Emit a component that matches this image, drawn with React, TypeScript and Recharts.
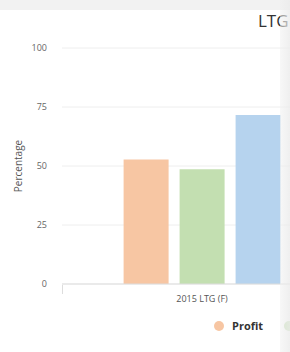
import { Bar, BarChart, CartesianGrid, Legend, XAxis, YAxis } from "recharts";

const categories = ["2015 LTG (F)"];
const seriesNames = ["Profit", "Revenue", "Margin"];
const seriesColors = ["#f7c6a3", "#c3dfb1", "#b6d3ee"];
const profit = [52.8];
const revenue = [48.6];
const margin = [71.6];
const yTicks = [0, 25, 50, 75, 100];

const data = categories.map((c, i) => ({
  name: c,
  Profit: profit[i],
  Revenue: revenue[i],
  Margin: margin[i],
}));

const font = "'Open Sans', 'DejaVu Sans', sans-serif";

function LegendContent() {
  return (
    <div style={{ display: "flex", gap: 21, paddingLeft: 214, paddingTop: 4, fontFamily: font }}>
      {seriesNames.map((name, i) => (
        <div key={name} style={{ display: "flex", alignItems: "center", gap: 8 }}>
          <span style={{ width: 10, height: 10, borderRadius: 5, background: seriesColors[i], display: "inline-block" }} />
          <span style={{ fontSize: 11, fontWeight: 700, color: "#333" }}>{name}</span>
        </div>
      ))}
    </div>
  );
}

export default function App() {
  return (
    <div style={{ position: "absolute", left: 0, top: 0, width: 290, height: 352, overflow: "hidden", background: "#fff" }}>
      <div style={{ position: "absolute", left: 0, top: 0, width: 290, height: 10, background: "#f2f2f2" }} />
      <div style={{ position: "absolute", left: 258, top: 9, fontFamily: font, fontSize: 17, color: "#333", whiteSpace: "nowrap" }}>
        LTG
      </div>
      <div style={{ position: "absolute", left: 62, top: 285, width: 1, height: 9, background: "#ddd" }} />
      <BarChart
        width={362}
        height={352}
        data={data}
        margin={{ top: 48, right: 20, left: 0, bottom: 0 }}
        barCategoryGap="22%"
        barGap={11}
        style={{ position: "absolute", left: 0, top: 0 }}
      >
        <CartesianGrid vertical={false} stroke="#eeeeee" />
        <XAxis
          dataKey="name"
          height={30}
          tickLine={false}
          axisLine={{ stroke: "#dddddd" }}
          tick={{ fontSize: 9, fill: "#555", fontFamily: font }}
          tickMargin={6}
        />
        <YAxis
          width={62}
          domain={[0, 100]}
          ticks={yTicks}
          tickLine={false}
          axisLine={false}
          tickMargin={9}
          tick={{ fontSize: 9, fill: "#666", fontFamily: font }}
          label={{ value: "Percentage", angle: -90, position: "center", dx: -13, style: { fontSize: 10, fill: "#555", fontFamily: font } }}
        />
        <Legend verticalAlign="bottom" height={38} content={<LegendContent />} />
        {seriesNames.map((name, i) => (
          <Bar key={name} dataKey={name} fill={seriesColors[i]} isAnimationActive={false} />
        ))}
      </BarChart>
      <div
        style={{
          position: "absolute",
          left: 280,
          top: 0,
          width: 10,
          height: 352,
          background: "linear-gradient(to right, rgba(240,240,240,0.5), rgba(235,235,235,0.8))",
        }}
      />
    </div>
  );
}
